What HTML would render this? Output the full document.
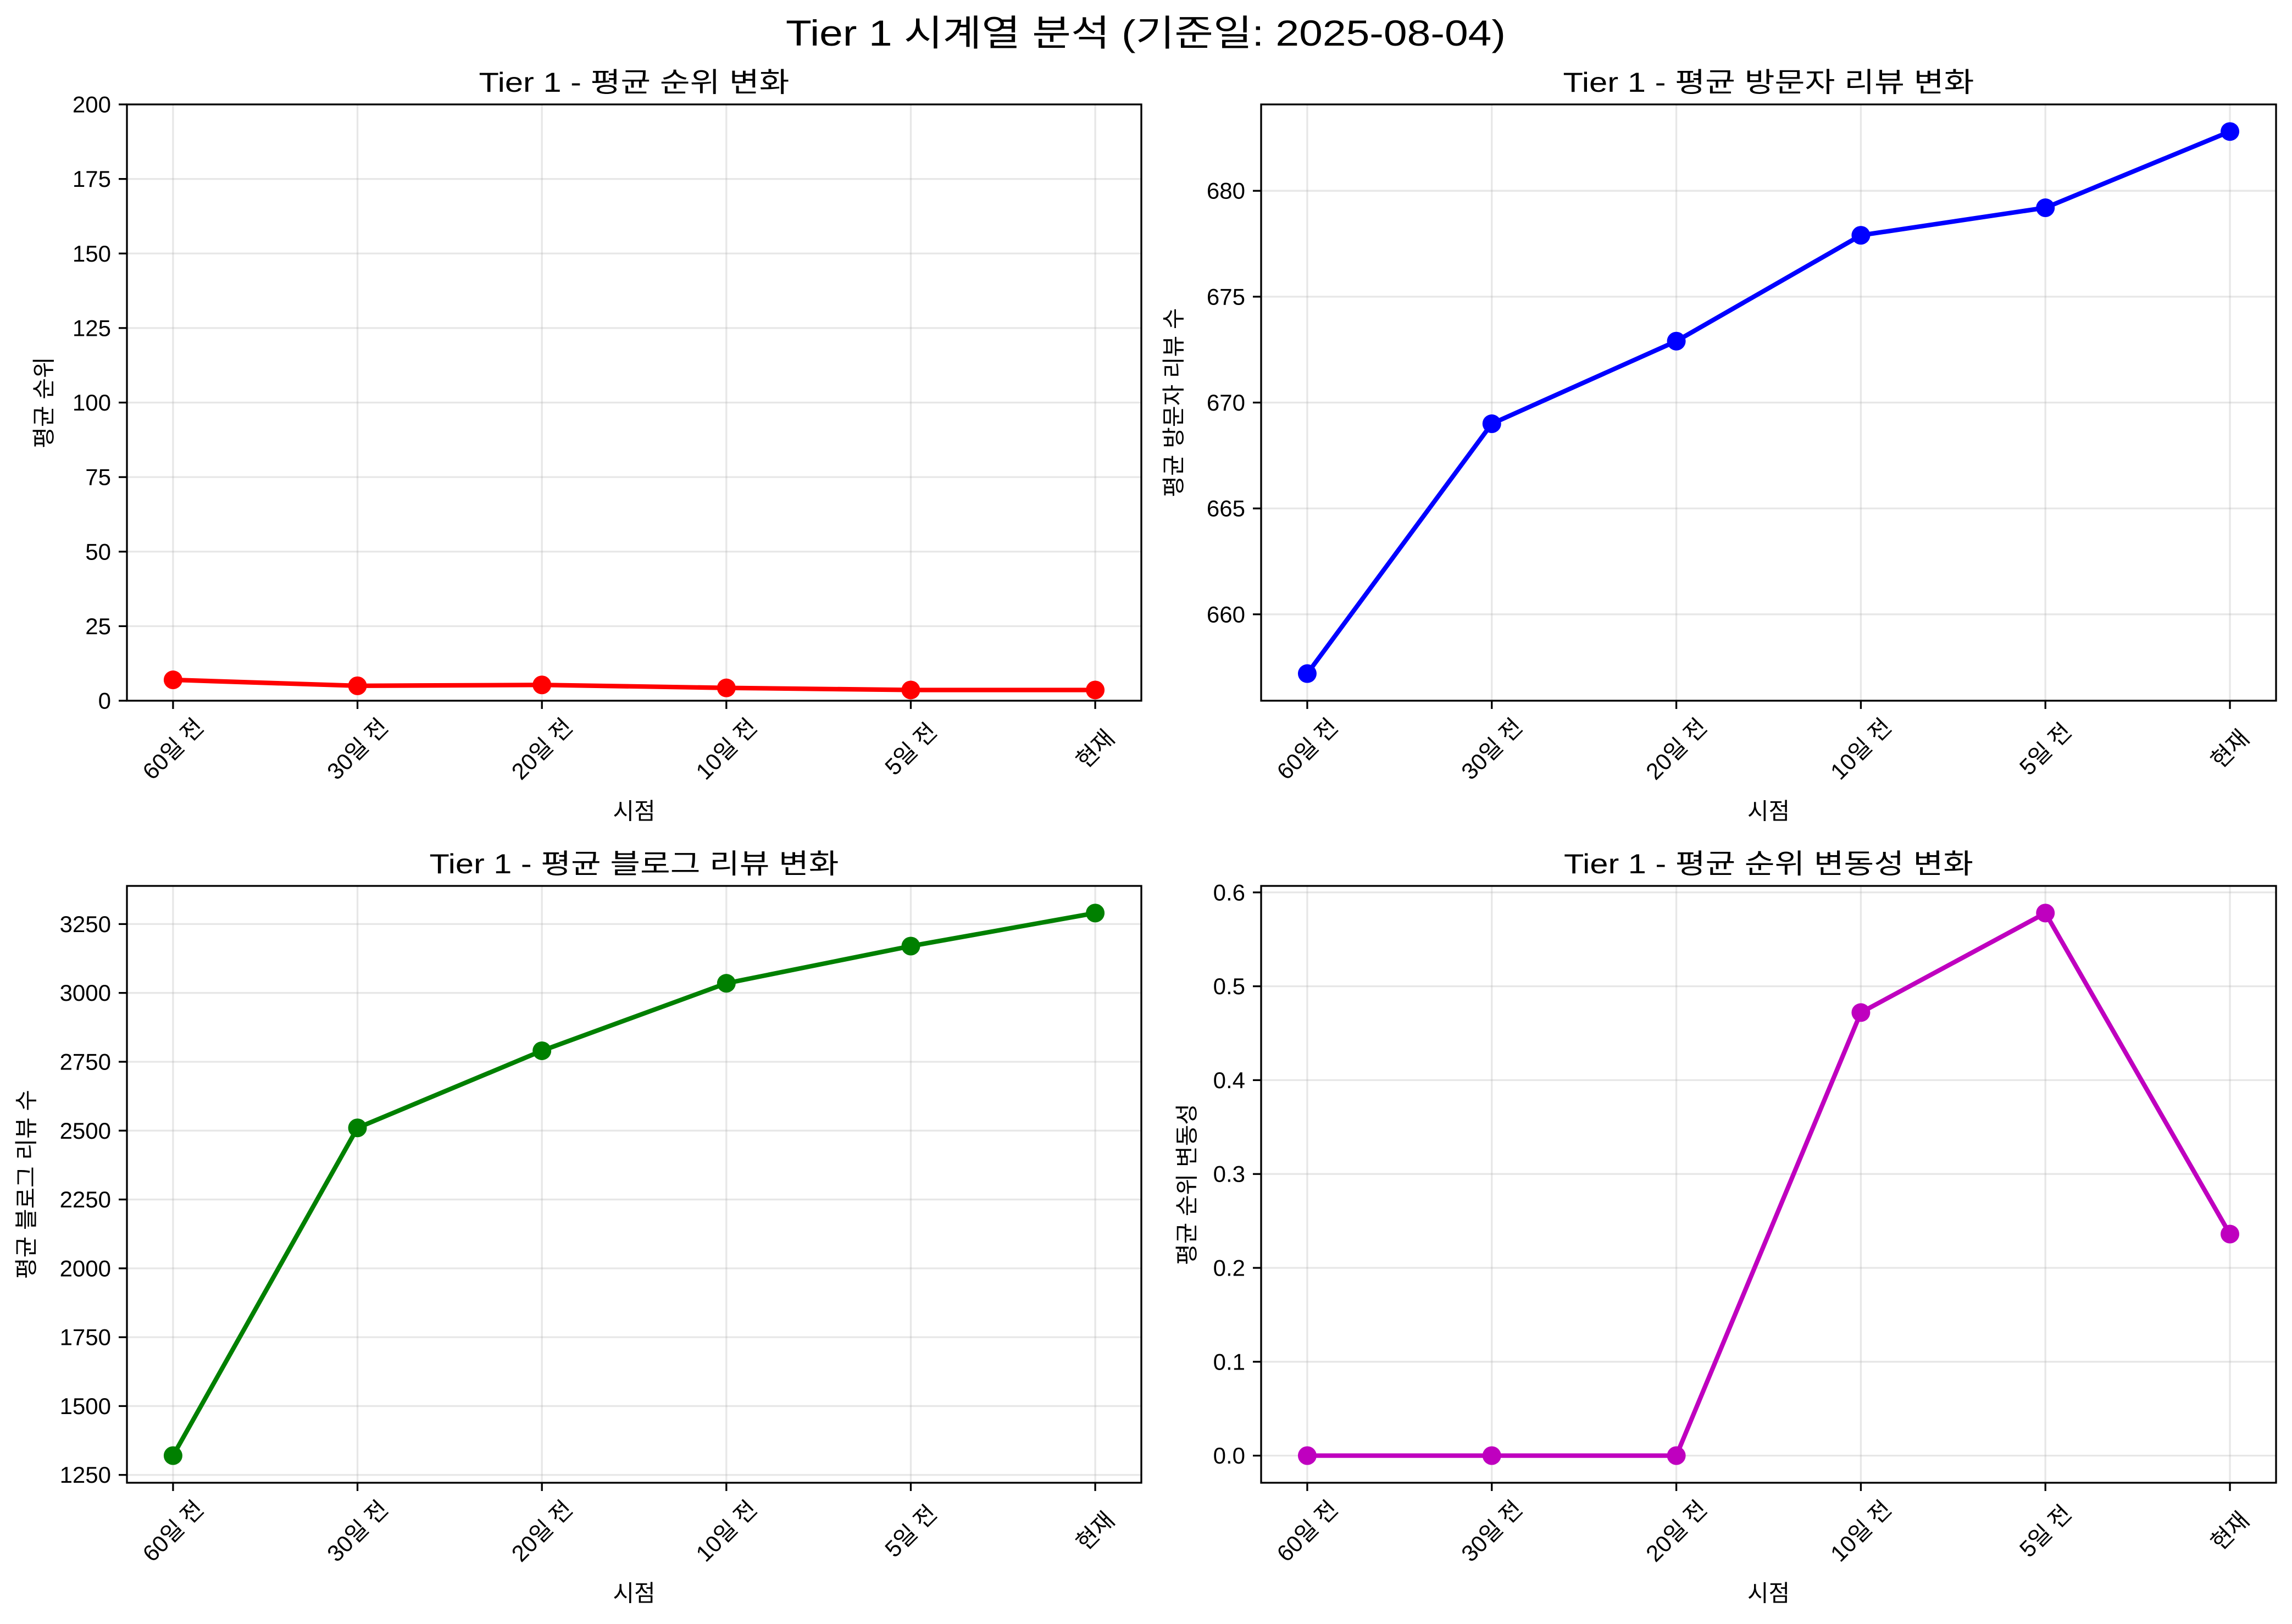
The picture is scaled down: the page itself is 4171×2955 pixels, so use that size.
<!DOCTYPE html>
<html><head><meta charset="utf-8"><style>
html,body{margin:0;padding:0;background:#fff;}
svg{display:block;}
text{font-family:"Liberation Sans","Noto Sans CJK KR",sans-serif;fill:#000;}
</style></head><body>
<svg id="fig" width="4171" height="2955" viewBox="0 0 4171 2955" xmlns="http://www.w3.org/2000/svg">
<rect width="4171" height="2955" fill="#fff"/>
<text x="2085" y="83" font-size="66" text-anchor="middle" textLength="1310" lengthAdjust="spacingAndGlyphs">Tier 1 시계열 분석 (기준일: 2025-08-04)</text>
</svg>
<script>
const categories = ["60일 전","30일 전","20일 전","10일 전","5일 전","현재"];
const rankValues = [7.0, 5.0, 5.3, 4.3, 3.6, 3.6];
const visitorValues = [657.2, 669.0, 672.9, 677.9, 679.2, 682.8];
const blogValues = [1320, 2510, 2790, 3035, 3170, 3290];
const volatilityValues = [0, 0, 0, 0.472, 0.578, 0.236];
const rankTicks = [0,25,50,75,100,125,150,175,200];
const visitorTicks = [660,665,670,675,680];
const blogTicks = [1250,1500,1750,2000,2250,2500,2750,3000,3250];
const volatilityTicks = [0.0,0.1,0.2,0.3,0.4,0.5,0.6];
const rankTickLabels = rankTicks.map(String);
const visitorTickLabels = visitorTicks.map(String);
const blogTickLabels = blogTicks.map(String);
const volatilityTickLabels = volatilityTicks.map(v=>v.toFixed(1));

const NS="http://www.w3.org/2000/svg";
const svg=document.getElementById('fig');
function mk(tag,attrs,parent){const e=document.createElementNS(NS,tag);for(const k in attrs)e.setAttribute(k,attrs[k]);(parent||svg).appendChild(e);return e;}

function panel(o){
  const g=mk('g',{});
  
  
  const L=o.l,R=o.r,T=o.t,B=o.b;
  let lo,hi;
  if(o.ylim){lo=o.ylim[0];hi=o.ylim[1];}
  else{const mn=Math.min(...o.values),mx=Math.max(...o.values);const m=(mx-mn)*0.05;lo=mn-m;hi=mx+m;}
  const n=categories.length;
  const xs=i=>L+(i+0.25)/(n-1+0.5)*(R-L);
  const ys=v=>B-(v-lo)/(hi-lo)*(B-T);
  // grid
  categories.forEach((c,i)=>{
    const ln=mk('line',{x1:xs(i),x2:xs(i),y1:T,y2:B,stroke:'#b0b0b0','stroke-opacity':0.3,'stroke-width':3.3},g);
    
    
  });
  o.ticks.forEach((v,i)=>{
    const y=ys(v);
    const ln=mk('line',{x1:L,x2:R,y1:y,y2:y,stroke:'#b0b0b0','stroke-opacity':0.3,'stroke-width':3.3},g);
    
    
    mk('line',{x1:L-15,x2:L,y1:y,y2:y,stroke:'#000','stroke-width':3.3},g);
    const t=mk('text',{x:L-29,y:y,'font-size':42,'text-anchor':'end','dominant-baseline':'central'},g);
    t.textContent=o.tickLabels[i];
    
    
  });
  categories.forEach((c,i)=>{
    const x=xs(i);
    mk('line',{x1:x,x2:x,y1:B,y2:B+15,stroke:'#000','stroke-width':3.3},g);
    const cy=B+88;
    const t=mk('text',{x:x,y:cy,'font-size':42,'text-anchor':'middle','dominant-baseline':'central',transform:`rotate(-45 ${x} ${cy})`},g);
    t.textContent=c;
    
    
  });
  // line
  const pts=o.values.map((v,i)=>xs(i)+','+ys(v)).join(' ');
  const pl=mk('polyline',{points:pts,fill:'none',stroke:o.color,'stroke-width':8.3,'stroke-linejoin':'round'},g);
  
  
  o.values.forEach((v,i)=>{
    const c=mk('circle',{cx:xs(i),cy:ys(v),r:17,fill:o.color},g);
    
    
  });
  const fr=mk('rect',{x:L,y:T,width:R-L,height:B-T,fill:'none',stroke:'#000','stroke-width':3.3},g);
  
  
  const tt=mk('text',{x:(L+R)/2,y:T-23,'font-size':50,'text-anchor':'middle',textLength:o.titleLen,lengthAdjust:'spacingAndGlyphs'},g);
  tt.textContent=o.title;
  
  
  const xl=mk('text',{x:(L+R)/2,y:B+201,'font-size':42,'text-anchor':'middle','dominant-baseline':'central'},g);
  xl.textContent='시점';
  
  
  const cy=(T+B)/2;
  const yl=mk('text',{x:o.ylx,y:cy,'font-size':42,'text-anchor':'middle','dominant-baseline':'central',transform:`rotate(-90 ${o.ylx} ${cy})`},g);
  yl.textContent=o.ylabel;
  
  
}
panel({name:'rank-chart',l:231,r:2077,t:190,b:1275,values:rankValues,ticks:rankTicks,tickLabels:rankTickLabels,ylim:[0,200],color:'#ff0000',title:'Tier 1 - 평균 순위 변화',titleLen:565,ylabel:'평균 순위',ylx:80});
panel({name:'visitor-review-chart',l:2295,r:4142,t:190,b:1275,values:visitorValues,ticks:visitorTicks,tickLabels:visitorTickLabels,color:'#0000ff',title:'Tier 1 - 평균 방문자 리뷰 변화',titleLen:748,ylabel:'평균 방문자 리뷰 수',ylx:2136});
panel({name:'blog-review-chart',l:231,r:2077,t:1612,b:2698,values:blogValues,ticks:blogTicks,tickLabels:blogTickLabels,color:'#008000',title:'Tier 1 - 평균 블로그 리뷰 변화',titleLen:745,ylabel:'평균 블로그 리뷰 수',ylx:48});
panel({name:'volatility-chart',l:2295,r:4142,t:1612,b:2698,values:volatilityValues,ticks:volatilityTicks,tickLabels:volatilityTickLabels,color:'#bf00bf',title:'Tier 1 - 평균 순위 변동성 변화',titleLen:745,ylabel:'평균 순위 변동성',ylx:2160});
</script>
</body></html>
